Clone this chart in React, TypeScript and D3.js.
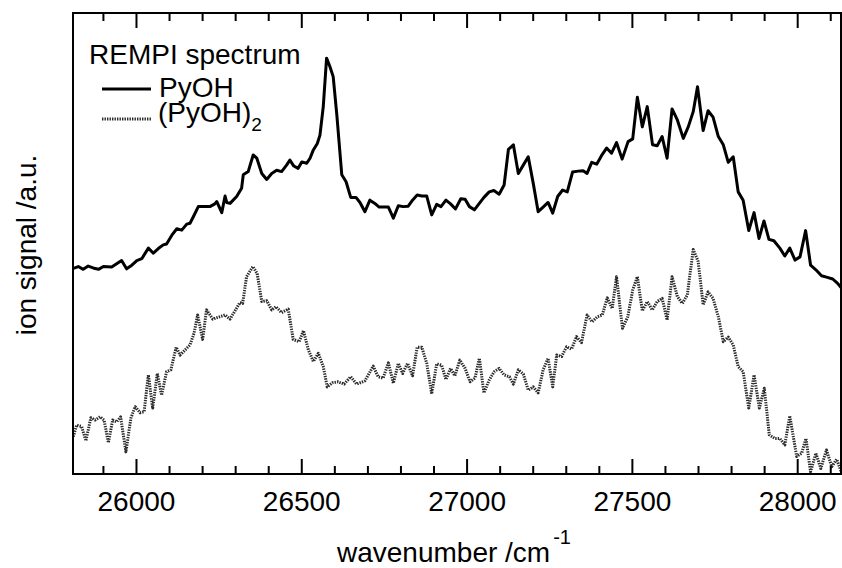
import React from "react";
import * as d3 from "d3";

const pyohWavenumber = [25809,25824,25839,25854,25869,25885,25900,25925,25940,25955,25970,25986,26001,26016,26036,26051,26066,26081,26091,26107,26122,26137,26152,26162,26172,26187,26202,26222,26237,26243,26258,26268,26273,26283,26303,26318,26323,26338,26353,26364,26379,26394,26409,26424,26439,26454,26464,26476,26489,26500,26515,26525,26535,26547,26555,26565,26575,26585,26595,26606,26621,26634,26648,26664,26676,26691,26706,26721,26734,26746,26762,26777,26792,26807,26822,26835,26849,26863,26878,26893,26908,26921,26936,26950,26965,26981,26994,27007,27022,27037,27051,27067,27081,27097,27112,27125,27140,27155,27170,27185,27200,27215,27230,27245,27259,27274,27289,27303,27319,27336,27351,27363,27377,27392,27407,27422,27437,27452,27469,27487,27501,27515,27530,27545,27561,27575,27590,27605,27620,27636,27654,27669,27684,27697,27714,27729,27744,27760,27775,27790,27805,27820,27835,27852,27868,27883,27898,27913,27928,27946,27961,27976,27992,28007,28024,28039,28055,28072,28087,28106,28120,28133];
const pyohSignal = [44.6,45.0,44.4,45.1,44.7,44.4,45.0,44.9,45.6,46.3,44.5,45.3,46.3,46.7,49.0,47.9,48.9,49.7,49.9,51.8,53.2,52.9,54.2,54.4,55.8,58.0,58.0,58.0,58.6,59.1,56.7,60.3,58.9,58.7,60.2,62.0,64.9,65.6,69.2,68.5,65.2,63.9,65.2,65.9,65.6,67.0,68.1,66.8,66.3,67.7,67.4,68.5,70.3,71.7,73.5,79.7,90.2,88.4,86.2,77.9,64.9,63.4,60.0,60.0,58.9,56.9,59.4,58.7,57.9,57.9,57.9,55.5,58.2,58.0,58.1,59.4,60.5,60.3,60.3,56.2,58.5,58.0,59.4,58.6,57.5,59.7,59.6,58.0,57.3,58.7,60.0,61.2,61.5,60.7,62.7,70.4,71.4,65.2,67.0,68.8,63.1,56.9,57.9,58.9,56.6,60.2,61.6,61.2,65.5,65.7,65.8,65.2,67.6,67.2,69.1,70.7,69.6,71.9,68.3,72.1,72.7,81.7,75.3,79.7,71.4,71.2,73.2,68.5,79.2,76.8,72.8,75.3,78.6,84.0,74.5,78.8,77.4,73.2,71.4,67.6,68.8,61.2,59.4,52.8,56.7,51.1,54.9,50.9,50.6,49.0,47.3,49.0,46.4,47.1,52.8,45.3,44.3,43.0,42.7,42.3,41.4,40.3];

const dimerWavenumber = [25809,25819,25834,25847,25862,25875,25890,25902,25915,25928,25940,25952,25968,25983,25996,26011,26023,26036,26049,26063,26076,26091,26104,26120,26132,26147,26162,26174,26185,26200,26212,26231,26247,26268,26283,26298,26313,26321,26333,26352,26365,26379,26394,26409,26422,26439,26459,26474,26492,26505,26520,26535,26550,26565,26577,26593,26610,26628,26648,26666,26691,26716,26731,26746,26762,26777,26792,26805,26820,26835,26849,26863,26878,26893,26908,26923,26936,26950,26963,26978,26994,27009,27024,27037,27051,27067,27082,27097,27112,27128,27140,27155,27170,27185,27200,27215,27230,27245,27259,27271,27286,27301,27316,27331,27346,27363,27378,27394,27409,27424,27439,27452,27470,27486,27501,27515,27530,27545,27560,27575,27590,27605,27620,27636,27651,27666,27684,27699,27714,27729,27744,27760,27775,27790,27805,27820,27835,27852,27868,27884,27899,27914,27931,27946,27961,27976,27997,28012,28025,28039,28055,28070,28087,28103,28118,28133];
const dimerSignal = [8.1,10.6,10.3,7.2,12.2,11.7,12.4,11.7,6.8,11.7,11.3,12.4,4.8,12.1,14.6,13.3,13.5,21.5,14.3,21.8,17.1,22.2,22.6,27.5,25.8,26.9,28.0,30.5,34.5,29.2,35.6,33.6,34.0,34.5,33.6,35.4,37.2,37.0,42.8,45.0,43.5,37.4,37.6,35.6,36.3,35.0,35.8,29.2,28.7,31.1,26.9,24.4,26.2,23.3,18.9,19.8,20.0,19.5,21.1,19.5,20.2,23.4,21.1,20.8,24.1,19.7,24.0,21.8,24.0,21.3,27.5,27.5,24.0,17.4,23.9,23.6,20.5,22.9,21.3,24.7,22.9,20.0,20.8,25.1,17.6,20.4,22.2,22.9,21.5,21.1,19.5,22.6,21.7,18.2,18.9,17.6,22.6,25.1,18.9,25.8,25.5,27.6,27.1,29.8,28.5,34.5,33.0,34.1,34.5,38.2,35.9,42.8,31.6,34.1,39.9,42.8,35.4,37.4,35.6,37.4,38.1,33.4,42.8,38.5,37.0,38.8,48.7,46.1,36.7,39.5,38.1,34.1,28.7,29.7,28.0,23.3,22.2,14.3,21.5,14.3,18.6,8.5,7.7,7.7,6.3,12.6,3.8,4.5,7.7,0.5,4.5,1.2,5.2,1.6,3.2,0.2];

const xDomain = [25808, 28131];
const yDomain = [0, 100];
const majorTicks = [26000, 26500, 27000, 27500, 28000];
const minorTicks = d3.range(25900, 28101, 100).filter((t) => t % 500 !== 0);

const legendTitle = "REMPI spectrum";
const seriesNames = ["PyOH", "(PyOH)"];
const yLabel = "ion signal /a.u.";
const xLabel = "wavenumber /cm";

const W = 842;
const H = 568;
const left = 73;
const right = 841;
const top = 13;
const bottom = 474;
const FONT = "'Liberation Sans', Arial, Helvetica, sans-serif";

export default function App() {
  const x = d3.scaleLinear().domain(xDomain).range([left, right]);
  const y = d3.scaleLinear().domain(yDomain).range([bottom, top]);
  const line = d3
    .line<[number, number]>()
    .x((d) => x(d[0]))
    .y((d) => y(d[1]));
  const pyoh = pyohWavenumber.map((w, i) => [w, pyohSignal[i]] as [number, number]);
  const dimer = dimerWavenumber.map((w, i) => [w, dimerSignal[i]] as [number, number]);

  return (
    <svg
      width={W}
      height={H}
      style={{ position: "absolute", left: 0, top: 0, background: "#fff" }}
      fontFamily={FONT}
    >
      <defs>
        <clipPath id="plotclip">
          <rect x={left} y={top} width={right - left} height={bottom - top} />
        </clipPath>
      </defs>
      <rect x={0} y={0} width={W} height={H} fill="#fff" />
      <g clipPath="url(#plotclip)">
        <path
          d={line(dimer) || ""}
          fill="none"
          stroke="#2a2a2a"
          strokeWidth={3}
          strokeDasharray="1.4 1.1"
          strokeLinejoin="round"
        />
        <path
          d={line(pyoh) || ""}
          fill="none"
          stroke="#000"
          strokeWidth={3}
          strokeLinejoin="round"
        />
      </g>
      {/* frame */}
      <rect
        x={left}
        y={top}
        width={right - left}
        height={bottom - top}
        fill="none"
        stroke="#000"
        strokeWidth={2}
      />
      {/* ticks */}
      {majorTicks.map((t) => (
        <g key={"M" + t}>
          <line x1={x(t)} x2={x(t)} y1={bottom} y2={bottom - 15} stroke="#000" strokeWidth={2} />
          <line x1={x(t)} x2={x(t)} y1={top} y2={top + 15} stroke="#000" strokeWidth={2} />
          <text x={x(t)} y={511} textAnchor="middle" fontSize={28} fill="#000">
            {t}
          </text>
        </g>
      ))}
      {minorTicks.map((t) => (
        <g key={"m" + t}>
          <line x1={x(t)} x2={x(t)} y1={bottom} y2={bottom - 8} stroke="#000" strokeWidth={2} />
          <line x1={x(t)} x2={x(t)} y1={top} y2={top + 8} stroke="#000" strokeWidth={2} />
        </g>
      ))}
      {/* axis titles */}
      <text x={454} y={562} textAnchor="middle" fontSize={28} fill="#000">
        {xLabel}
        <tspan fontSize={20} dx={3} dy={-18}>
          -1
        </tspan>
      </text>
      <text
        transform="translate(36,245) rotate(-90)"
        textAnchor="middle"
        fontSize={28}
        fill="#000"
      >
        {yLabel}
      </text>
      {/* legend */}
      <text x={89} y={64} fontSize={28} fill="#000">
        {legendTitle}
      </text>
      <line x1={102} x2={151} y1={89} y2={89} stroke="#000" strokeWidth={3} />
      <text x={159} y={97} fontSize={28} fill="#000">
        {seriesNames[0]}
      </text>
      <line
        x1={102}
        x2={151}
        y1={119}
        y2={119}
        stroke="#2a2a2a"
        strokeWidth={3}
        strokeDasharray="1.4 1.1"
      />
      <text x={158} y={122} fontSize={28} fill="#000">
        {seriesNames[1]}
        <tspan fontSize={19} dy={9}>
          2
        </tspan>
      </text>
    </svg>
  );
}
